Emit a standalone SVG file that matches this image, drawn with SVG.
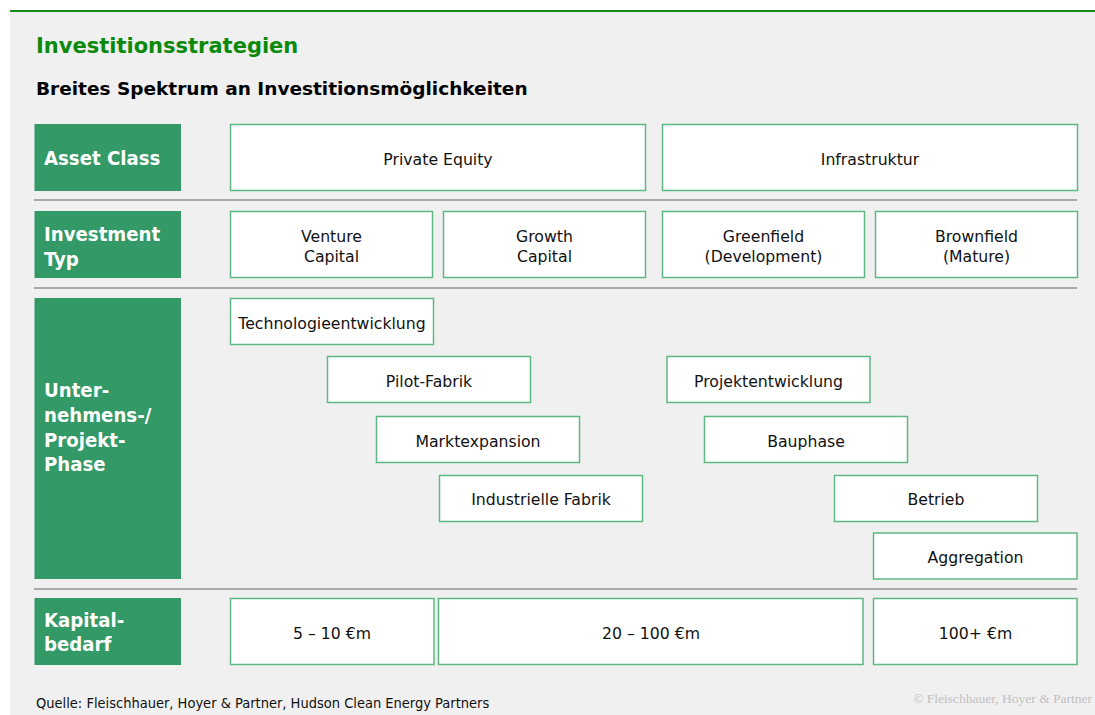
<svg xmlns="http://www.w3.org/2000/svg" width="1095" height="715" viewBox="0 0 1095 715">
<style>
.lbl{fill:#339966}
.box{fill:#ffffff;stroke:#5fb784;stroke-width:1.5}
.sep{stroke:#a8a8a8;stroke-width:2}
.lt{font-family:"DejaVu Sans Condensed","Liberation Sans",sans-serif;font-weight:bold;font-size:20.2px;fill:#ffffff}
.bt{font-family:"DejaVu Sans","Liberation Sans",sans-serif;font-size:15.7px;fill:#111111;text-anchor:middle}
</style>
<rect x="0" y="0" width="1095" height="715" fill="#ffffff"/>
<rect x="10" y="11" width="1085" height="704" fill="#f0f0f0"/>
<line x1="10" y1="11" x2="1095" y2="11" stroke="#168a16" stroke-width="2"/>
<text x="36" y="53" font-family="DejaVu Sans,Liberation Sans,sans-serif" font-weight="bold" font-size="21" fill="#0a8a0a">Investitionsstrategien</text>
<text x="36" y="95" font-family="DejaVu Sans,Liberation Sans,sans-serif" font-weight="bold" font-size="18.5" fill="#000000">Breites Spektrum an Investitionsmöglichkeiten</text>

<g id="separators">
<line class="sep" x1="34" y1="200" x2="1077" y2="200"/>
<line class="sep" x1="34" y1="288" x2="1077" y2="288"/>
<line class="sep" x1="34" y1="589" x2="1077" y2="589"/>
</g>

<g id="label-asset-class">
<rect class="lbl" x="34.5" y="124" width="146.5" height="67"/>
<text class="lt" x="44" y="165">Asset Class</text>
</g>
<g id="label-investment-typ">
<rect class="lbl" x="34.5" y="211" width="146.5" height="67"/>
<text class="lt" x="44" y="241">Investment</text>
<text class="lt" x="44" y="265.5">Typ</text>
</g>
<g id="label-phase">
<rect class="lbl" x="34.5" y="298" width="146.5" height="281"/>
<text class="lt" x="44" y="396.5">Unter-</text>
<text class="lt" x="44" y="421.5">nehmens-/</text>
<text class="lt" x="44" y="446.5">Projekt-</text>
<text class="lt" x="44" y="471">Phase</text>
</g>
<g id="label-kapital">
<rect class="lbl" x="34.5" y="598" width="146.5" height="67"/>
<text class="lt" x="44" y="626.5">Kapital-</text>
<text class="lt" x="44" y="651">bedarf</text>
</g>

<g id="private-equity">
<rect class="box" x="230.5" y="124.5" width="415" height="66"/>
<text class="bt" x="438" y="165">Private Equity</text>
</g>
<g id="infrastruktur">
<rect class="box" x="662.5" y="124.5" width="415" height="66"/>
<text class="bt" x="870" y="165">Infrastruktur</text>
</g>

<g id="venture-capital">
<rect class="box" x="230.5" y="211.5" width="202" height="66"/>
<text class="bt" x="331.5" y="241.5">Venture</text>
<text class="bt" x="331.5" y="262">Capital</text>
</g>
<g id="growth-capital">
<rect class="box" x="443.5" y="211.5" width="202" height="66"/>
<text class="bt" x="544.5" y="241.5">Growth</text>
<text class="bt" x="544.5" y="262">Capital</text>
</g>
<g id="greenfield">
<rect class="box" x="662.5" y="211.5" width="202" height="66"/>
<text class="bt" x="763.5" y="241.5">Greenfield</text>
<text class="bt" x="763.5" y="262">(Development)</text>
</g>
<g id="brownfield">
<rect class="box" x="875.5" y="211.5" width="202" height="66"/>
<text class="bt" x="976.5" y="241.5">Brownfield</text>
<text class="bt" x="976.5" y="262">(Mature)</text>
</g>

<g id="technologieentwicklung">
<rect class="box" x="230.5" y="298.5" width="203" height="46"/>
<text class="bt" x="332" y="328.5">Technologieentwicklung</text>
</g>
<g id="pilot-fabrik">
<rect class="box" x="327.5" y="356.5" width="203" height="46"/>
<text class="bt" x="429" y="386.5">Pilot-Fabrik</text>
</g>
<g id="marktexpansion">
<rect class="box" x="376.5" y="416.5" width="203" height="46"/>
<text class="bt" x="478" y="446.5">Marktexpansion</text>
</g>
<g id="industrielle-fabrik">
<rect class="box" x="439.5" y="475.5" width="203" height="46"/>
<text class="bt" x="541" y="505">Industrielle Fabrik</text>
</g>
<g id="projektentwicklung">
<rect class="box" x="667" y="356.5" width="203" height="46"/>
<text class="bt" x="768.5" y="386.5">Projektentwicklung</text>
</g>
<g id="bauphase">
<rect class="box" x="704.5" y="416.5" width="203" height="46"/>
<text class="bt" x="806" y="446.5">Bauphase</text>
</g>
<g id="betrieb">
<rect class="box" x="834.5" y="475.5" width="203" height="46"/>
<text class="bt" x="936" y="505">Betrieb</text>
</g>
<g id="aggregation">
<rect class="box" x="873.5" y="533" width="203.5" height="46"/>
<text class="bt" x="975.5" y="563">Aggregation</text>
</g>

<g id="kapital-5-10">
<rect class="box" x="230.5" y="598.5" width="203.5" height="66"/>
<text class="bt" x="332" y="639">5 – 10 €m</text>
</g>
<g id="kapital-20-100">
<rect class="box" x="438.5" y="598.5" width="424.5" height="66"/>
<text class="bt" x="651" y="639">20 – 100 €m</text>
</g>
<g id="kapital-100plus">
<rect class="box" x="873.5" y="598.5" width="203.5" height="66"/>
<text class="bt" x="975.5" y="639">100+ €m</text>
</g>

<text x="36" y="708" font-family="DejaVu Sans Condensed,Liberation Sans,sans-serif" font-size="14.5" fill="#111111">Quelle: Fleischhauer, Hoyer &amp; Partner, Hudson Clean Energy Partners</text>
<text x="1092" y="702.5" font-family="Liberation Serif,serif" font-size="13.5" fill="#c0c0c0" text-anchor="end">© Fleischhauer, Hoyer &amp; Partner</text>
</svg>
